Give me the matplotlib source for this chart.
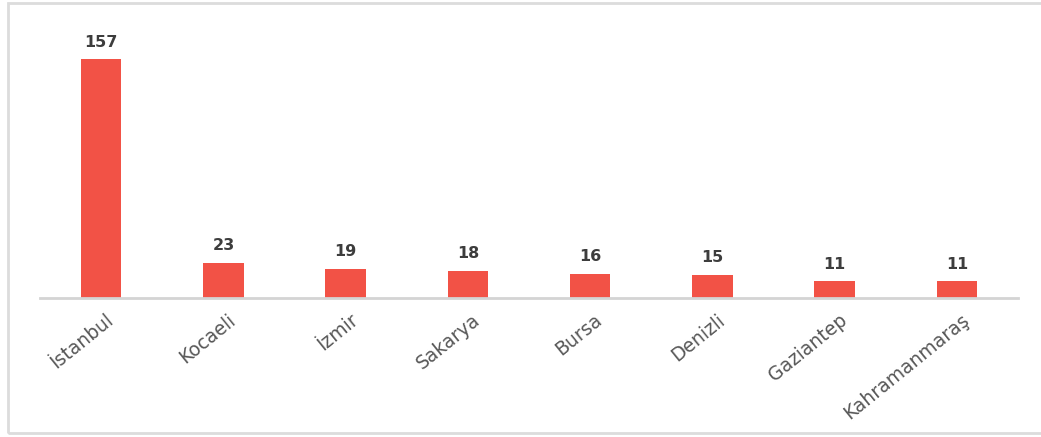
import matplotlib.pyplot as plt
from matplotlib.patches import Rectangle
from matplotlib.transforms import ScaledTranslation

cities = ["İstanbul", "Kocaeli", "İzmir", "Sakarya", "Bursa", "Denizli",
          "Gaziantep", "Kahramanmaraş"]
counts = [157, 23, 19, 18, 16, 15, 11, 11]

BAR_COLOR = "#F25246"
AXIS_COLOR = "#d4d4d4"

plt.rcParams["font.family"] = ["DejaVu Sans"]

W, H = 1041, 437
fig = plt.figure(figsize=(W / 100, H / 100), dpi=100)
ax = fig.add_axes([40 / W, 1 - 298 / H, 978 / W, 278 / H])

x = range(len(cities))
bars = ax.bar(x, counts, width=0.33, color=BAR_COLOR, zorder=2)

ax.set_xlim(-0.5, len(cities) - 0.5)
ax.set_ylim(0, 278 / 1.52)

for b, v in zip(bars, counts):
    ax.annotate(str(v), (b.get_x() + b.get_width() / 2, v),
                xytext=(0, 7), textcoords="offset points",
                ha="center", va="bottom", fontsize=11.5,
                fontweight="bold", color="#3d3d3d")

ax.set_xticks(list(x))
ax.set_xticklabels(cities, rotation=39, ha="right", va="top",
                   rotation_mode="anchor", fontsize=13.5, color="#585858")
ax.tick_params(axis="x", length=0, pad=9)
ax.set_yticks([])
shift = ScaledTranslation(4 / 100, 0, fig.dpi_scale_trans)
for lbl in ax.get_xticklabels():
    lbl.set_transform(lbl.get_transform() + shift)

for side in ("top", "right", "left"):
    ax.spines[side].set_visible(False)
ax.spines["bottom"].set_color(AXIS_COLOR)
ax.spines["bottom"].set_linewidth(2)

# light frame around the chart, open on the right edge
frame = Rectangle((8 / W, 1 - 433 / H), 1.2, (433 - 3) / H,
                  transform=fig.transFigure, fill=False,
                  edgecolor="#dcdcdc", linewidth=2, clip_on=False)
fig.patches.append(frame)

fig.savefig("out.png", dpi=100)
